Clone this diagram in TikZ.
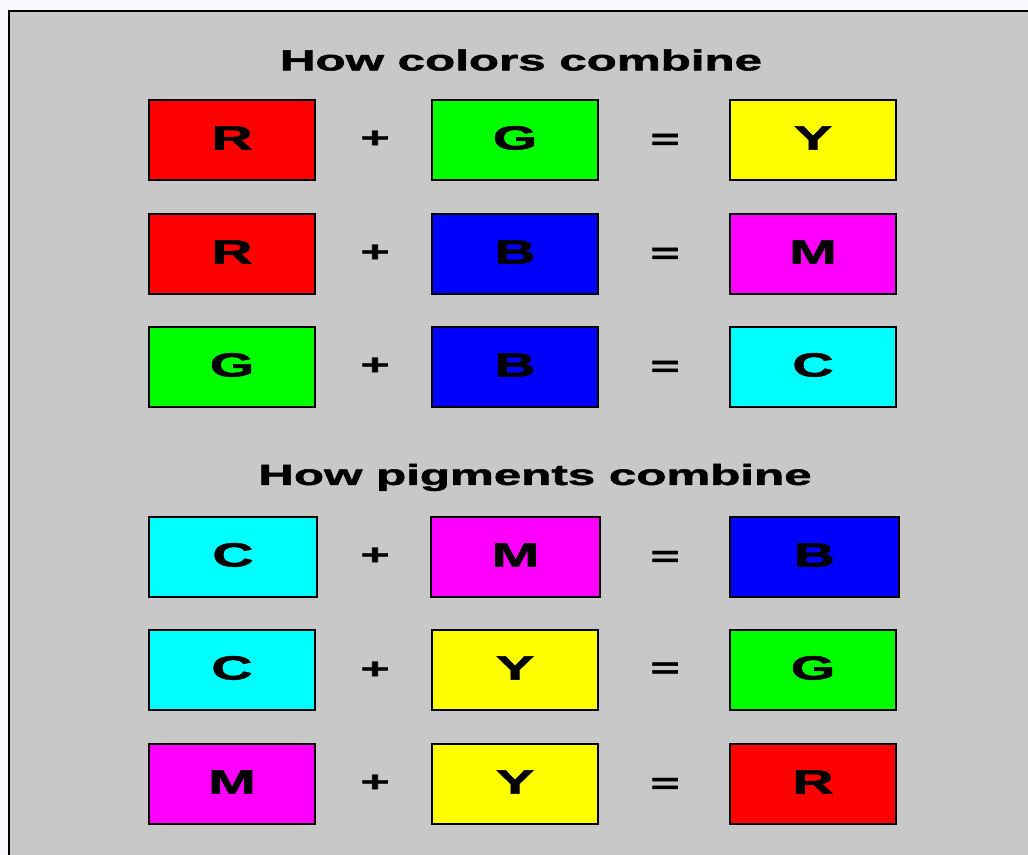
\documentclass[tikz,border=0pt]{standalone}
\usepackage{fontspec}
\setmainfont{Liberation Sans}[BoldFeatures={FakeBold=1.5}]
\usepackage{graphicx}
\definecolor{bgwhite}{RGB}{248,249,254}
\definecolor{panelgray}{RGB}{200,200,200}
\definecolor{pred}{RGB}{255,0,0}
\definecolor{pgreen}{RGB}{0,255,0}
\definecolor{pblue}{RGB}{0,0,255}
\definecolor{pyellow}{RGB}{255,255,0}
\definecolor{pmagenta}{RGB}{255,0,255}
\definecolor{pcyan}{RGB}{0,255,255}
\newcommand\wide[1]{\scalebox{1.7}[1]{#1}}
\begin{document}
\begin{tikzpicture}[x=1pt,y=-1pt,
  cbox/.style={draw=black,line width=1.8pt,minimum width=166.5pt,minimum height=79.5pt,
    inner sep=0pt,text height=24pt,text depth=5pt,
    font=\fontsize{33.5}{36}\selectfont\bfseries},
  wbox/.style={cbox,minimum width=168.5pt},
  title/.style={inner sep=0pt,text height=20.8pt,text depth=0pt,
    font=\fontsize{29}{32}\selectfont\bfseries},
  op/.style={inner sep=0pt,font=\fontsize{29}{30}\selectfont\bfseries}]
\useasboundingbox (0,0) rectangle (1028,854);
\fill[bgwhite] (0,0) rectangle (1028,854);
\fill[panelgray] (9,10) rectangle (1030,856);
\draw[line width=2pt] (9,856) -- (9,10.5) -- (1030,10.5);

\node[title] (t1) at (521,60) {\wide{How colors combine}};

\node[cbox,fill=pred] (a1) at (232,140) {\wide{R}};
\node[op] (p1) at (375,139) {\wide{+}};
\node[cbox,fill=pgreen] (b1) at (515,140) {\wide{G}};
\node[op] (e1) at (665,141.5) {\wide{=}};
\node[cbox,fill=pyellow] (c1) at (813,140) {\wide{Y}};

\node[cbox,fill=pred] (a2) at (232,254) {\wide{R}};
\node[op] (p2) at (375,253) {\wide{+}};
\node[cbox,fill=pblue] (b2) at (515,254) {\wide{B}};
\node[op] (e2) at (665,255.5) {\wide{=}};
\node[cbox,fill=pmagenta] (c2) at (813,254) {\wide{M}};

\node[cbox,fill=pgreen] (a3) at (232,367) {\wide{G}};
\node[op] (p3) at (375,366) {\wide{+}};
\node[cbox,fill=pblue] (b3) at (515,367) {\wide{B}};
\node[op] (e3) at (665,368.5) {\wide{=}};
\node[cbox,fill=pcyan] (c3) at (813,367) {\wide{C}};

\node[title] (t2) at (535,474.5) {\wide{How pigments combine}};

\node[wbox,fill=pcyan] (a4) at (233,557) {\wide{C}};
\node[op] (p4) at (375,556) {\wide{+}};
\node[wbox,fill=pmagenta] (b4) at (515.5,557) {\wide{M}};
\node[op] (e4) at (665,558.5) {\wide{=}};
\node[wbox,fill=pblue] (c4) at (814.5,557) {\wide{B}};

\node[cbox,fill=pcyan] (a5) at (232,670) {\wide{C}};
\node[op] (p5) at (375,670) {\wide{+}};
\node[cbox,fill=pyellow] (b5) at (515,670) {\wide{Y}};
\node[op] (e5) at (665,670) {\wide{=}};
\node[cbox,fill=pgreen] (c5) at (813,670) {\wide{G}};

\node[cbox,fill=pmagenta] (a6) at (232,784) {\wide{M}};
\node[op] (p6) at (375,783) {\wide{+}};
\node[cbox,fill=pyellow] (b6) at (515,784) {\wide{Y}};
\node[op] (e6) at (665,785.5) {\wide{=}};
\node[cbox,fill=pred] (c6) at (813,784) {\wide{R}};
\end{tikzpicture}
\end{document}
